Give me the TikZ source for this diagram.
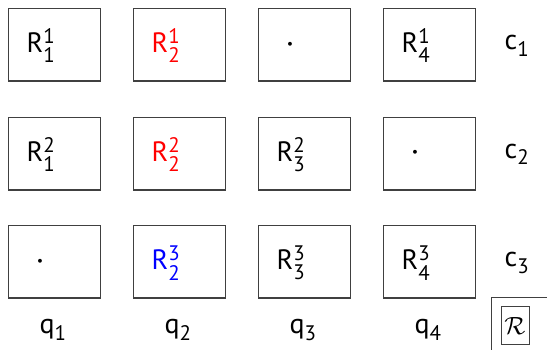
\documentclass[tikz,border=0pt]{standalone}
\usepackage{amsmath}
\usepackage{fontspec}
\setmainfont{PT Sans}
\DeclareMathSizes{28}{28}{21}{16}
\newcommand\RR[2]{R$^{\text{#1}}_{\text{#2}}$}
\newcommand\lab[2]{#1$_{\text{#2}}$}
\newcommand\dotc{{\fontsize{34}{40}\selectfont\boldmath$\cdot$}}
\begin{document}
\begin{tikzpicture}[x=1pt,y=-1pt,
  cell/.style={draw=black!75,line width=1.2pt,minimum width=92pt,minimum height=72.5pt,inner sep=0pt,anchor=north west},
  txt/.style={font=\fontsize{28}{34}\selectfont,inner sep=0pt,anchor=base},
  dotnode/.style={inner sep=0pt},
  frameline/.style={draw=black!75,line width=1.2pt}]
\useasboundingbox (0,0) rectangle (547,350);
% boxes
\foreach \c/\x in {1/8,2/133,3/258,4/383}{
  \foreach \r/\y in {1/8,2/117,3/225}{
    \node[cell] (b\r\c) at (\x,\y) {};
  }
}
% contents (baseline)
\node[txt] (t11) at (41,52.7) {\RR{1}{1}};
\node[txt,text=red] (t12) at (166,52.7) {\RR{1}{2}};
\node[dotnode] (t13) at (290,44.5) {\dotc};
\node[txt] (t14) at (416,52.7) {\RR{1}{4}};
\node[txt] (t21) at (41,161.5) {\RR{2}{1}};
\node[txt,text=red] (t22) at (166,161.5) {\RR{2}{2}};
\node[txt] (t23) at (291,161.5) {\RR{2}{3}};
\node[dotnode] (t24) at (415,153) {\dotc};
\node[dotnode] (t31) at (40,261.5) {\dotc};
\node[txt,text=blue] (t32) at (166,270) {\RR{3}{2}};
\node[txt] (t33) at (291,270) {\RR{3}{3}};
\node[txt] (t34) at (416,270) {\RR{3}{4}};
% column labels
\node[txt] (q1) at (53,334) {\lab{q}{1}};
\node[txt] (q2) at (178,334) {\lab{q}{2}};
\node[txt] (q3) at (303,334) {\lab{q}{3}};
\node[txt] (q4) at (428,334) {\lab{q}{4}};
% row labels
\node[txt] (c1) at (517,50) {\lab{c}{1}};
\node[txt] (c2) at (517,158.5) {\lab{c}{2}};
\node[txt] (c3) at (517,267) {\lab{c}{3}};
% corner frame
\coordinate (fb) at (491.5,350);
\coordinate (fc) at (491.5,297.5);
\coordinate (fr) at (547,297.5);
\draw[frameline] (fb) -- (fc) -- (fr);
\node[draw=black!75,line width=1pt,minimum width=28pt,minimum height=37pt,inner sep=0pt] (calR) at (515,325.5) {\fontsize{26}{30}\selectfont$\mathcal{R}$};
\end{tikzpicture}
\end{document}
